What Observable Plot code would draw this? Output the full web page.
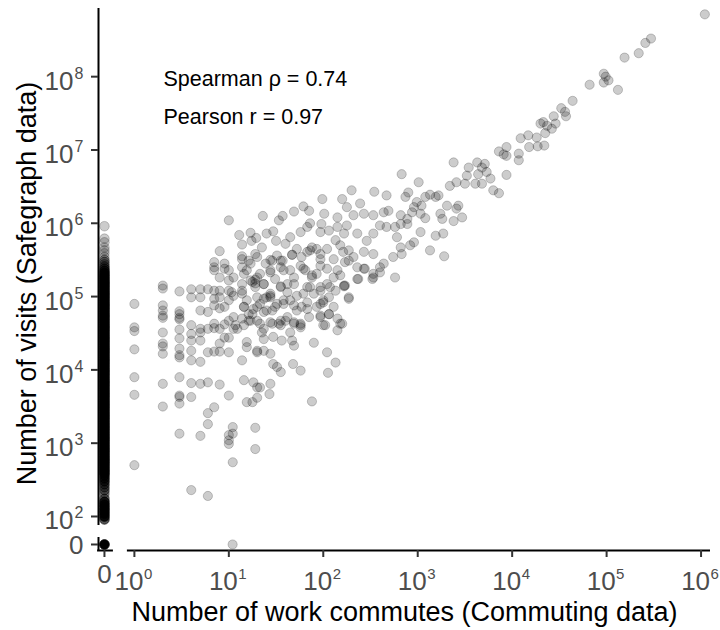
<!DOCTYPE html>
<html><head><meta charset="utf-8">
<script src="https://cdn.jsdelivr.net/npm/d3@7"></script>
<script src="https://cdn.jsdelivr.net/npm/@observablehq/plot@0.6"></script>
<style>body{margin:0;background:#fff}</style>
</head><body><div id="chart"></div>
<script>
// ---- data (log10 values) ----
const commutesLog10 = [
  1.11,1.23,1.36,1.47,1.53,1.57,1.69,1.79,1.85,1.86,1.98,2.01,2.15,2.25,2.32,2.39,2.43,2.53,2.64,2.69,
  1.14,1.24,1.29,1.35,1.40,1.50,1.60,1.65,1.76,1.83,1.97,2.06,2.15,2.22,2.25,2.36,2.46,2.53,2.60,2.67,
  1.14,1.21,1.28,1.44,1.51,1.57,1.67,1.72,1.83,1.88,1.97,2.04,2.13,2.18,2.27,2.32,2.43,2.53,2.64,
  1.14,1.19,1.28,1.33,1.44,1.55,1.65,1.76,1.81,1.88,1.97,2.04,2.15,2.23,2.36,2.43,2.53,2.60,
  1.14,1.23,1.28,1.37,1.44,1.55,1.62,1.69,1.79,1.86,1.97,2.07,2.22,2.27,
  1.05,1.14,1.19,1.30,1.37,1.44,1.51,1.58,1.65,1.72,1.83,1.97,2.00,2.06,2.15,2.20,
  1.05,1.16,1.25,1.30,1.37,1.46,1.55,1.62,1.69,1.76,1.97,2.02,2.15,
  1.05,1.16,1.21,1.30,1.37,1.35,1.46,1.55,1.65,1.76,
  1.09,1.19,1.30,1.37,1.47,1.56,1.67,1.69,1.90,2.04,2.13,
  1.14,1.19,1.30,1.37,1.44,1.47,1.51,1.55,1.68,1.76,2.05,
  1.16,1.26,1.30,1.33,1.44,1.43,1.19,1.25,1.30,1.88,
  1.28,1.28,
  1.14,1.23,1.30,1.39,1.46,1.55,1.67,1.77,1.86,1.93,1.97,2.11,2.21,2.27,2.36,2.44,2.53,2.60,
  1.05,1.16,1.30,1.37,1.44,1.49,1.58,1.69,1.79,1.88,1.93,2.04,2.11,2.18,2.23,2.37,2.52,
  1.03,1.14,1.25,1.28,1.40,1.44,1.55,1.62,1.72,1.83,1.90,1.97,2.06,2.13,2.22,2.27,
  1.16,1.21,1.26,1.33,1.40,1.49,1.58,1.69,1.77,1.83,1.93,2.00,2.11,
  1.07,1.14,1.23,1.33,1.44,1.53,1.60,1.69,1.76,1.85,1.97,2.06,2.18,2.00,
  4.09,4.17,4.27,4.18,4.07,3.94,3.86,3.94,4.07,3.38,3.54,3.63,3.68,3.73,3.71,3.94,3.64,3.52,3.41,3.34,
  3.50,3.61,3.68,3.77,3.80,3.86,2.83,3.01,2.30,2.54,2.67,2.90,2.87,3.13,3.19,3.22,1.99,2.20,3.08,3.31,
  3.43,3.41,3.24,3.26,3.38,3.47,2.82,2.89,2.96,2.99,3.04,3.03,3.08,2.76,2.82,2.89,2.94,3.03,3.19,3.27,
  2.78,2.82,2.92,2.96,3.13,3.28,2.74,2.83,2.76,
  6.04,5.47,5.41,5.34,5.19,4.97,4.99,5.02,4.97,5.12,4.82,4.64,4.52,4.56,4.57,4.44,4.33,4.30,4.37,4.46,
  4.42,4.35,4.34,4.26,3.91
];
const visitsLog10 = [
  5.84,5.87,6.10,5.89,6.04,6.10,6.16,6.23,6.17,6.00,5.99,6.13,6.08,6.22,6.11,6.27,6.13,6.11,6.15,6.17,
  5.71,5.76,5.80,5.67,5.86,5.76,5.72,5.81,5.88,5.95,5.88,5.90,5.95,5.86,5.97,5.86,5.76,5.86,5.97,5.95,
  5.55,5.49,5.58,5.50,5.56,5.49,5.57,5.65,5.61,5.67,5.58,5.65,5.77,5.70,5.63,5.54,5.61,5.58,5.45,
  5.40,5.36,5.23,5.31,5.36,5.40,5.36,5.42,5.36,5.26,5.42,5.17,5.36,5.47,5.24,5.38,5.26,5.33,
  5.17,5.22,5.18,5.17,5.01,5.14,5.17,5.17,5.04,5.13,5.13,5.13,5.14,4.97,
  5.01,5.04,4.95,4.99,4.97,4.99,4.90,4.95,4.95,4.81,4.83,4.90,4.95,4.76,4.70,4.63,
  4.72,4.86,4.76,4.86,4.79,4.81,4.67,4.72,4.65,4.61,4.72,4.61,4.54,
  4.56,4.61,4.67,4.67,4.56,4.51,4.63,4.61,4.51,4.58,
  4.56,4.38,4.26,4.42,4.45,4.40,4.40,4.33,4.37,4.24,4.10,
  4.13,4.31,4.24,4.26,4.22,4.08,4.04,3.97,4.08,3.99,3.96,
  3.86,3.83,3.76,3.76,3.81,3.67,3.56,3.56,3.62,3.57,
  3.21,2.92,
  5.51,5.45,5.54,5.45,5.49,5.49,5.57,5.54,5.63,5.65,5.51,5.51,5.61,5.49,5.40,5.38,5.31,5.40,
  5.26,5.31,5.26,5.17,5.33,5.24,5.36,5.26,5.38,5.29,5.31,5.38,5.26,5.29,5.15,5.24,5.24,
  5.06,5.08,5.20,5.13,4.99,5.04,5.13,5.06,5.01,5.13,5.04,5.08,4.99,5.08,5.15,4.99,
  4.86,4.76,4.83,4.90,4.81,4.86,4.90,4.88,4.86,4.92,4.86,4.92,4.86,
  4.61,4.70,4.67,4.63,4.65,4.63,4.67,4.63,4.63,4.72,4.74,4.76,4.63,4.61,
  7.16,7.20,7.05,7.04,6.95,6.92,6.98,7.04,6.86,6.83,6.76,6.83,6.76,6.70,6.81,6.66,6.67,6.65,6.56,6.51,
  6.54,6.54,6.54,6.61,6.45,6.41,6.67,6.56,6.45,6.43,6.38,6.42,6.36,6.39,6.36,6.38,6.33,6.33,6.36,6.24,
  6.24,6.20,6.13,6.06,6.03,6.08,6.11,6.06,6.22,6.29,6.24,6.13,6.07,5.95,5.99,5.99,6.15,5.88,5.83,5.86,
  5.81,5.67,5.70,5.74,5.63,5.55,5.54,5.58,5.26,
  8.85,8.52,8.46,8.32,8.26,8.04,8.00,7.95,7.92,7.82,7.89,7.67,7.57,7.52,7.46,7.46,7.38,7.36,7.33,7.36,
  7.29,7.23,7.06,7.17,6.94
];
// counties with few commutes (integer counts) and their visits (log10)
const lowCommuteCounts = [1,2,3,4,5,6,7,8,9,10,11];
const lowCommuteVisitsLog10 = [
  [4.90,4.58,4.53,4.28,3.90,3.66,2.70],
  [5.15,5.11,4.88,4.81,4.74,4.71,4.51,4.36,4.32,4.22,3.81,3.50],
  [5.07,4.80,4.76,4.71,4.69,4.55,4.43,4.29,4.20,4.17,3.90,3.65,3.63,3.54,3.13],
  [5.10,4.99,4.61,4.49,4.40,4.26,4.13,3.82,3.63,2.36],
  [5.10,4.99,4.81,4.56,4.51,4.40,4.11,3.81,3.10],
  [5.10,4.79,4.56,4.24,3.83,3.41,3.26,2.28],
  [5.47,5.40,5.36,5.08,4.97,4.88,4.63,4.57,4.25,3.49],
  [5.62,5.26,5.08,4.99,4.84,4.56,4.36,4.25,3.80],
  [5.45,5.38,4.86,4.62,4.44],
  [6.04,5.36,5.22,5.08,4.95,4.67,4.44,4.24,3.65,3.11,3.04,2.99],
  [3.22,3.13,2.74]
];
// counties with zero commutes: visits (log10 bins) and number of counties per bin
const zeroCommuteVisitsLog10 = [
  5.96,5.79,5.74,5.67,5.63,5.59,5.54,5.50,5.47,5.44,5.41,5.38,
  5.35,5.32,5.29,5.26,5.23,5.20,5.17,5.14,5.11,5.08,5.05,5.02,4.99,4.96,4.93,4.90,4.87,4.84,4.81,4.78,
  4.75,4.72,4.69,4.66,4.63,4.60,4.57,4.54,4.51,4.48,4.45,4.42,4.39,4.36,4.33,4.30,4.27,4.24,4.21,4.18,
  4.15,4.12,4.09,4.06,4.03,4.00,3.97,3.94,3.91,3.88,3.85,3.82,3.79,3.76,3.73,3.70,3.67,3.64,3.61,3.58,
  3.55,3.52,3.49,3.46,3.43,3.40,3.37,3.34,3.31,3.28,3.25,3.22,3.19,3.16,3.13,3.10,3.07,3.04,3.01,2.98,
  2.95,2.92,2.89,2.86,2.83,2.80,2.77,2.74,2.71,2.68,2.65,2.62,2.59,2.56,
  2.52,2.48,2.44,2.40,2.36,2.32,2.28,2.24,2.20,2.16,2.12,2.08,2.04,2.00,1.96
];
const zeroCommuteCounts = [
  1,1,1,1,1,1,1,2,2,2,3,4,
  6,8,9,10,10,12,12,12,12,12,12,12,12,12,12,12,12,12,12,12,
  12,12,12,12,12,12,12,12,12,12,12,12,12,12,12,12,12,12,12,12,
  12,12,12,12,12,12,12,12,12,12,12,12,12,12,12,12,12,12,12,12,
  12,12,12,12,12,12,12,12,12,12,12,12,12,12,12,12,12,12,12,12,
  12,12,12,12,12,12,12,12,12,10,10,10,9,8,
  7,6,4,3,3,2,1,3,8,12,12,12,12,10,5
];
const zeroVisitCommutesLog10 = [1.04];
const bothZeroCount = 25;

const xTickExponents = [0,1,2,3,4,5,6];
const yTickExponents = [2,3,4,5,6,7,8];
const annotations = ["Spearman \u03C1 = 0.74", "Pearson r = 0.97"];
const xTitle = "Number of work commutes (Commuting data)";
const yTitle = "Number of visits (Safegraph data)";

// ---- layout: the "0" category sits on a broken-axis position ----
const xZeroPos = -0.317, yZeroPos = 1.618;
const xDomain = [-0.38, 6.1], yDomain = [1.536, 8.93];
const alpha = 0.2;

const points = [];
const n = Math.min(commutesLog10.length, visitsLog10.length);
for (let i = 0; i < n; i++) points.push({x: commutesLog10[i], y: visitsLog10[i]});
lowCommuteCounts.forEach((c, i) => lowCommuteVisitsLog10[i].forEach(v => points.push({x: Math.log10(c), y: v})));
zeroVisitCommutesLog10.forEach(c => points.push({x: c, y: yZeroPos}));
// zero-commute column: each record = one bin of k stacked counties
const zeroColumn = zeroCommuteVisitsLog10.map((v, i) => ({x: xZeroPos, y: v, k: zeroCommuteCounts[i] || 1}));
zeroColumn.push({x: xZeroPos, y: yZeroPos, k: bothZeroCount});
const stacked = d => 1 - Math.pow(1 - alpha, d.k);

const tickGrey = "#4d4d4d";
const font = "'Liberation Sans', Arial, Helvetica, sans-serif";

const chart = Plot.plot({
  width: 720, height: 630,
  marginLeft: 98, marginRight: 10, marginTop: 8, marginBottom: 80,
  style: {fontFamily: font, background: "#fff", color: "#000"},
  x: {domain: xDomain, axis: null},
  y: {domain: yDomain, axis: null},
  opacity: {type: "identity"},
  marks: [
    Plot.dot(points, {x: "x", y: "y", r: 4.6, fill: "#000", fillOpacity: alpha, stroke: "#000", strokeOpacity: alpha, strokeWidth: 1}),
    Plot.dot(zeroColumn, {x: "x", y: "y", r: 4.8, fill: "#000", fillOpacity: stacked, stroke: "#000", strokeOpacity: stacked, strokeWidth: 1}),
    // axis lines (broken at the zero category)
    Plot.ruleX([xDomain[0]], {y1: 1.877, y2: yDomain[1], stroke: "#000", strokeWidth: 2}),
    Plot.ruleX([xDomain[0]], {y1: yDomain[0], y2: 1.713, stroke: "#000", strokeWidth: 2}),
    Plot.ruleY([yDomain[0]], {x1: -0.074, x2: xDomain[1], stroke: "#000", strokeWidth: 2}),
    Plot.ruleY([yDomain[0]], {x1: -0.39, x2: -0.222, stroke: "#000", strokeWidth: 2}),
    // tick marks
    Plot.axisY([yZeroPos, ...yTickExponents], {anchor: "left", tickSize: 7, tickFormat: () => "", label: null, stroke: "#333", strokeWidth: 2}),
    Plot.axisX([xZeroPos, ...xTickExponents], {anchor: "bottom", tickSize: 7, tickFormat: () => "", label: null, stroke: "#333", strokeWidth: 2}),
    // y tick labels 10^k
    Plot.text(yTickExponents, {y: d => d, text: () => "10", frameAnchor: "left", textAnchor: "end", lineAnchor: "bottom", dx: -25, dy: 13, fontSize: 26, fill: tickGrey}),
    Plot.text(yTickExponents, {y: d => d, text: d => String(d), frameAnchor: "left", textAnchor: "start", lineAnchor: "bottom", dx: -24, dy: 2, fontSize: 16, fill: tickGrey}),
    Plot.text([yZeroPos], {y: d => d, text: () => "0", frameAnchor: "left", textAnchor: "end", lineAnchor: "bottom", dx: -15, dy: 10, fontSize: 26, fill: tickGrey}),
    // x tick labels 10^k
    Plot.text(xTickExponents, {x: d => d, text: () => "10", frameAnchor: "bottom", textAnchor: "end", lineAnchor: "bottom", dx: 9, dy: 39, fontSize: 26, fill: tickGrey}),
    Plot.text(xTickExponents, {x: d => d, text: d => String(d), frameAnchor: "bottom", textAnchor: "start", lineAnchor: "bottom", dx: 9.5, dy: 28, fontSize: 15, fill: tickGrey}),
    Plot.text([xZeroPos], {x: d => d, text: () => "0", frameAnchor: "bottom", textAnchor: "middle", lineAnchor: "bottom", dx: 0, dy: 32, fontSize: 26, fill: tickGrey}),
    // axis titles
    Plot.text([xTitle], {text: d => d, frameAnchor: "bottom", textAnchor: "middle", lineAnchor: "bottom", dy: 70, fontSize: 27, fill: "#000"}),
    Plot.text([yTitle], {text: d => d, frameAnchor: "left", textAnchor: "middle", lineAnchor: "bottom", rotate: -90, dx: -63, dy: 4, fontSize: 27, fill: "#000"}),
    // annotation
    Plot.text([annotations[0]], {text: d => d, frameAnchor: "top-left", textAnchor: "start", lineAnchor: "bottom", dx: 65, dy: 77, fontSize: 21.5, fill: "#000"}),
    Plot.text([annotations[1]], {text: d => d, frameAnchor: "top-left", textAnchor: "start", lineAnchor: "bottom", dx: 65, dy: 115, fontSize: 21.5, fill: "#000"})
  ]
});
document.getElementById("chart").appendChild(chart);
</script></body></html>
